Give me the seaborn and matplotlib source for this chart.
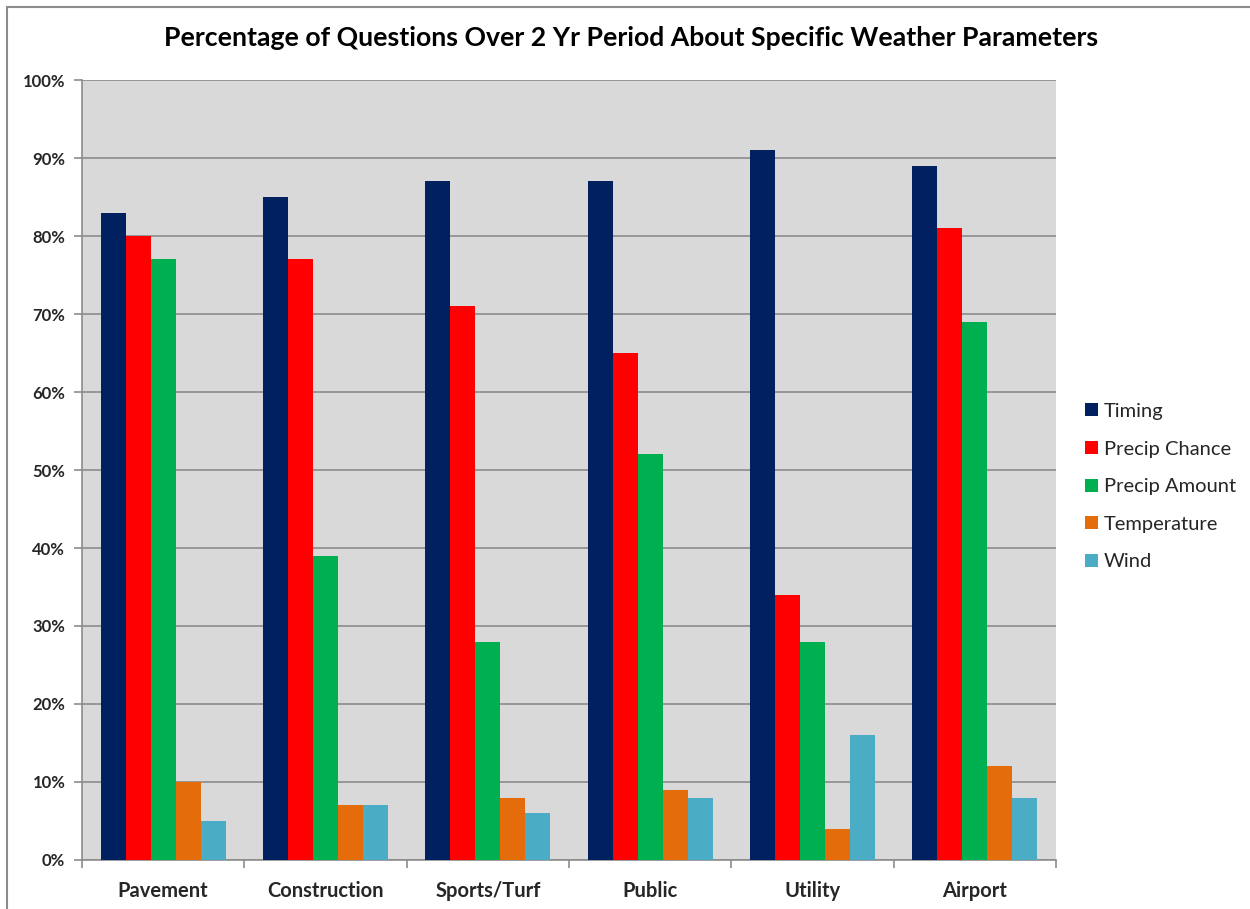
import matplotlib
matplotlib.use("Agg")
import matplotlib.pyplot as plt
from matplotlib.lines import Line2D
from matplotlib.patches import Patch
import numpy as np
import pandas as pd
import seaborn as sns

categories = ["Pavement", "Construction", "Sports/Turf", "Public", "Utility", "Airport"]
timing = [83, 85, 87, 87, 91, 89]
precip_chance = [80, 77, 71, 65, 34, 81]
precip_amount = [77, 39, 28, 52, 28, 69]
temperature = [10, 7, 8, 9, 4, 12]
wind = [5, 7, 6, 8, 16, 8]

series_names = ["Timing", "Precip Chance", "Precip Amount", "Temperature", "Wind"]
series_values = [timing, precip_chance, precip_amount, temperature, wind]
colors = ["#002060", "#FF0000", "#00B050", "#E46C0A", "#4BACC6"]

rows = []
for name, vals in zip(series_names, series_values):
    for cat, v in zip(categories, vals):
        rows.append({"Category": cat, "Parameter": name, "Percent": v})
df = pd.DataFrame(rows)

sns.set_theme(style="white")
plt.rcParams["font.family"] = ["Lato", "DejaVu Sans"]

fig = plt.figure(figsize=(12.5, 9.09), dpi=100)
ax = fig.add_axes([82 / 1250, 1 - 860 / 909, (1056 - 82) / 1250, (860 - 80) / 909])
ax.set_facecolor("#D9D9D9")

sns.barplot(data=df, x="Category", y="Percent", hue="Parameter",
            order=categories, hue_order=series_names, palette=colors,
            saturation=1, width=0.77, errorbar=None, ax=ax, legend=False,
            linewidth=0, zorder=3)

ax.set_ylim(0, 100)
ax.set_xlim(-0.5, len(categories) - 0.5)
ax.set_yticks(np.arange(0, 101, 10))
ax.set_yticklabels([f"{t}%" for t in range(0, 101, 10)])
ax.yaxis.grid(True, color="#8C8C8C", linewidth=1.2, zorder=0)
ax.set_axisbelow(True)
ax.set_xlabel("")
ax.set_ylabel("")

# category boundary ticks on the x axis
ax.set_xticks(np.arange(-0.5, len(categories), 1.0))
ax.set_xticklabels([])
ax.set_xticks(np.arange(len(categories)), minor=True)
ax.set_xticklabels(categories, minor=True, fontweight="bold", fontsize=14.5)
ax.tick_params(axis="x", which="major", direction="out", length=6, color="#8C8C8C", width=1.2, bottom=True)
ax.tick_params(axis="x", which="minor", length=0, pad=15)
ax.tick_params(axis="y", direction="out", length=6, color="#8C8C8C", width=1.2, left=True, labelsize=12, pad=6)
for lbl in ax.get_yticklabels():
    lbl.set_fontweight("bold")

for side in ["top", "right"]:
    ax.spines[side].set_visible(False)
for side in ["left", "bottom"]:
    ax.spines[side].set_color("#8C8C8C")
    ax.spines[side].set_linewidth(1.2)

fig.text(631 / 1250, 1 - 38 / 909, "Percentage of Questions Over 2 Yr Period About Specific Weather Parameters",
         ha="center", va="center", fontsize=19.2, fontweight="bold", color="#000000")

handles = [Patch(facecolor=c, edgecolor="none") for c in colors]
fig.legend(handles, series_names, loc="upper left", bbox_to_anchor=(1077 / 1250, 1 - 395 / 909),
           frameon=False, fontsize=14.5, handlelength=0.62, handleheight=0.62,
           handletextpad=0.3, labelspacing=1.02, borderaxespad=0)

# thin frame around the chart area
fig.add_artist(Line2D([7 / 1250, 1.0], [1 - 6.5 / 909, 1 - 6.5 / 909], transform=fig.transFigure,
                      color="#8C8C8C", linewidth=1.5))
fig.add_artist(Line2D([7 / 1250, 7 / 1250], [0, 1 - 6.5 / 909], transform=fig.transFigure,
                      color="#8C8C8C", linewidth=1.5))

fig.savefig("out.png", dpi=100, facecolor="white")
